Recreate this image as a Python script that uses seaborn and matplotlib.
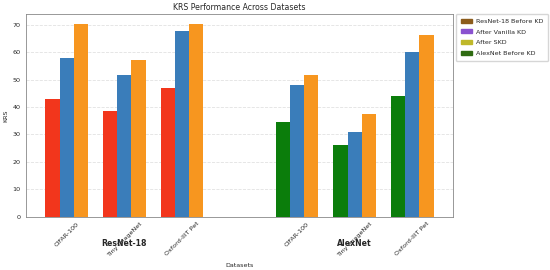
import pandas as pd
import matplotlib
matplotlib.use("Agg")
import matplotlib.pyplot as plt
import seaborn as sns
from matplotlib.patches import Patch

# -----------------------------
# Data
# -----------------------------
datasets = ["CIFAR-100", "Tiny ImageNet", "Oxford-IIIT Pet"]
models = ["ResNet-18", "AlexNet"]
stages = ["Before KD", "After Vanilla KD", "After SKD"]

resnet_before = [42.8, 38.5, 47.0]
resnet_vanilla = [57.9, 51.6, 67.8]
resnet_skd = [70.1, 57.0, 70.1]

alexnet_before = [34.4, 26.1, 44.1]
alexnet_vanilla = [48.1, 31.0, 60.1]
alexnet_skd = [51.6, 37.3, 66.2]

legend_labels = ["ResNet-18 Before KD", "After Vanilla KD", "After SKD", "AlexNet Before KD"]

# -----------------------------
# Long-format table
# -----------------------------
rows = []
for model, vals in [("ResNet-18", [resnet_before, resnet_vanilla, resnet_skd]),
                    ("AlexNet", [alexnet_before, alexnet_vanilla, alexnet_skd])]:
    for stage, series in zip(stages, vals):
        for ds, v in zip(datasets, series):
            rows.append({"model": model, "slot": model + "|" + ds,
                         "dataset": ds, "stage": stage, "KRS": v})
df = pd.DataFrame(rows)

# slot order with an empty gap between the two models
order = ["ResNet-18|" + d for d in datasets] + ["gap"] + ["AlexNet|" + d for d in datasets]

# Style
sns.set_style("whitegrid", {"grid.linestyle": "--", "grid.color": "#e2e2e2",
                            "axes.edgecolor": "#888888"})
plt.rcParams["font.family"] = ["DejaVu Sans"]

fig = plt.figure(figsize=(5.5, 2.7), dpi=100)
ax = fig.add_axes([0.047, 0.197, 0.777, 0.752])

# ResNet-18 bars
sns.barplot(data=df[df["model"] == "ResNet-18"], x="slot", y="KRS", hue="stage",
            order=order, hue_order=stages, width=0.74, saturation=1, linewidth=0,
            palette=["#f2361c", "#3a7dba", "#f7961f"], legend=False, ax=ax)
# AlexNet bars
sns.barplot(data=df[df["model"] == "AlexNet"], x="slot", y="KRS", hue="stage",
            order=order, hue_order=stages, width=0.74, saturation=1, linewidth=0,
            palette=["#0b7d0b", "#3a7dba", "#f7961f"], legend=False, ax=ax)

ax.set_ylim(0, 74)
ax.set_yticks(range(0, 71, 10))
ax.set_xlim(-0.71, len(order) - 1 + 0.71)
ax.xaxis.grid(False)
ax.yaxis.grid(True, linewidth=0.6)

ax.set_xticks(range(len(order)))
ax.set_xticklabels([s.split("|")[1] if "|" in s else "" for s in order],
                   rotation=45, ha="center", fontsize=4.6)
ax.tick_params(axis="y", labelsize=4.6, length=2, pad=2)
ax.tick_params(axis="x", length=2, pad=1)
for i, s in enumerate(order):
    if s == "gap":
        ax.xaxis.get_major_ticks()[i].tick1line.set_visible(False)

ax.set_title("KRS Performance Across Datasets", fontsize=5.6, pad=3)
ax.set_ylabel("KRS", fontsize=4.6, labelpad=3)
ax.set_xlabel("Datasets", fontsize=4.6, labelpad=4)

# model group labels under the middle dataset
for m in models:
    mid = order.index(m + "|" + datasets[1])
    ax.text(mid, -0.13, m, transform=ax.get_xaxis_transform(),
            ha="center", va="center", fontsize=5.6, fontweight="bold")

handles = [Patch(color=c) for c in ["#8c5c1c", "#8a52cf", "#bfb82a", "#2f6b12"]]
ax.legend(handles, legend_labels, loc="upper left", bbox_to_anchor=(1.006, 1.0),
          fontsize=4.6, frameon=True, handlelength=1.8, handleheight=0.55,
          borderpad=0.8, labelspacing=0.85, handletextpad=0.55, borderaxespad=0)

for sp in ax.spines.values():
    sp.set_linewidth(0.6)

fig.savefig("out.png", dpi=100)
plt.close(fig)
